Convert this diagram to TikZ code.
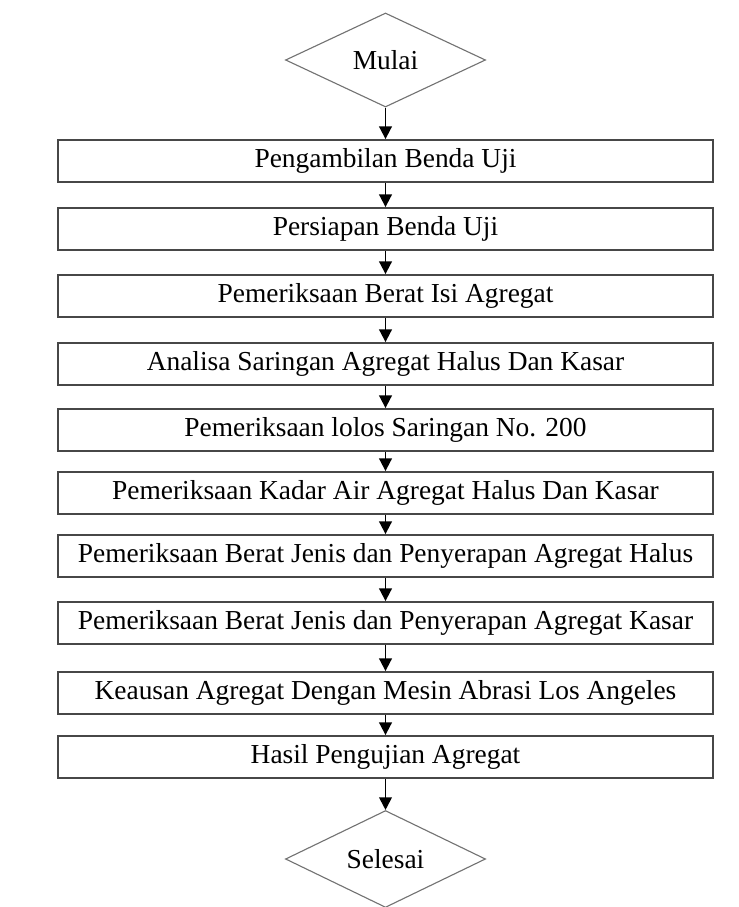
\documentclass[tikz,border=0pt]{standalone}
\usepackage{fontspec}
\setmainfont{Liberation Serif}
\usetikzlibrary{shapes.geometric,arrows.meta}

\tikzset{
	proses/.style={draw=black!72, line width=1.3pt, fill=white, minimum width=16.375cm,
		minimum height=1.05cm, inner sep=0pt, font=\fontsize{19.5}{23}\selectfont},
	terminal/.style={diamond, draw=black!55, line width=0.8pt, minimum width=5cm,
		minimum height=2.35cm, inner sep=0pt, font=\fontsize{19.5}{23}\selectfont},
	panah/.style={-{Triangle[length=9pt,width=9pt]}, line width=1.3pt},
}

\begin{document}
\begin{tikzpicture}[x=0.025cm,y=-0.025cm]

	\useasboundingbox (0,0) rectangle (738,907);

	\node[terminal] (mulai) at (385.5,60) {Mulai};
	\node[proses] (ambil) at (385.5,161) {Pengambilan Benda Uji};
	\node[proses] (siap) at (385.5,229) {Persiapan Benda Uji};
	\node[proses] (isi) at (385.5,296) {Pemeriksaan Berat Isi Agregat};
	\node[proses] (saring) at (385.5,364) {Analisa Saringan Agregat Halus Dan Kasar};
	\node[proses] (lolos) at (385.5,430) {Pemeriksaan lolos Saringan No. 200};
	\node[proses] (kadar) at (385.5,493) {Pemeriksaan Kadar Air Agregat Halus Dan Kasar};
	\node[proses] (halus) at (385.5,556) {Pemeriksaan Berat Jenis dan Penyerapan Agregat Halus};
	\node[proses] (kasar) at (385.5,623) {Pemeriksaan Berat Jenis dan Penyerapan Agregat Kasar};
	\node[proses] (abrasi) at (385.5,693) {Keausan Agregat Dengan Mesin Abrasi Los Angeles};
	\node[proses] (hasil) at (385.5,757) {Hasil Pengujian Agregat};
	\node[terminal] (selesai) at (385.5,859) {Selesai};

	\draw[panah] (mulai) -- (ambil);
	\draw[panah] (ambil) -- (siap);
	\draw[panah] (siap) -- (isi);
	\draw[panah] (isi) -- (saring);
	\draw[panah] (saring) -- (lolos);
	\draw[panah] (lolos) -- (kadar);
	\draw[panah] (kadar) -- (halus);
	\draw[panah] (halus) -- (kasar);
	\draw[panah] (kasar) -- (abrasi);
	\draw[panah] (abrasi) -- (hasil);
	\draw[panah] (hasil) -- (selesai);

\end{tikzpicture}
\end{document}
